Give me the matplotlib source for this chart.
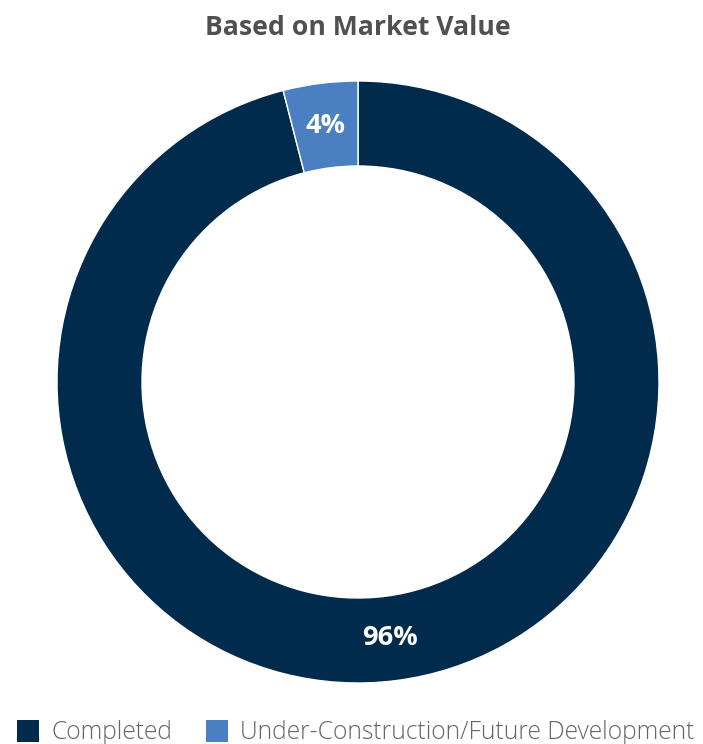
import matplotlib
matplotlib.use("Agg")
import matplotlib.pyplot as plt

categories = ["Completed", "Under-Construction/Future Development"]
values = [96, 4]
colors = ["#002B4D", "#4A7FC1"]
title = "Based on Market Value"

W, H = 703, 744
fig = plt.figure(figsize=(W / 100, H / 100), dpi=100)
cx, cy, R = 358, 382, 301
ax = fig.add_axes([(cx - R) / W, (H - cy - R) / H, 2 * R / W, 2 * R / H])
ring = (301 - 216) / 301

wedges, texts = ax.pie(values, colors=colors, startangle=90, counterclock=False,
                       radius=1, wedgeprops=dict(width=ring, edgecolor="white", linewidth=1),
                       labels=[f"{v}%" for v in values], labeldistance=1 - ring / 2)
for t in texts:
    t.set_color("white")
    t.set_fontsize(19.5)
    t.set_fontweight("bold")
    t.set_fontfamily("Open Sans")
    t.set_ha("center")
    t.set_va("center")
ax.set_xlim(-1, 1)
ax.set_ylim(-1, 1)
ax.set_aspect("equal")
ax.axis("off")

fig.text(cx / W, 1 - 28 / H, title, ha="center", va="center", fontsize=19.2,
         fontweight="bold", color="#505050", family="Open Sans")

leg = fig.legend(wedges, categories, loc="upper left", bbox_to_anchor=(17 / W, 1 - 720 / H),
                 ncol=2, frameon=False, handlelength=0.9, handleheight=1.0,
                 handletextpad=0.5, columnspacing=1.35, borderaxespad=0, borderpad=0,
                 prop=dict(family="Open Sans", size=17.7, weight="light"))
for t in leg.get_texts():
    t.set_color("#666666")
for h in leg.legend_handles:
    h.set_edgecolor("none")

fig.savefig("out.png", dpi=100)
